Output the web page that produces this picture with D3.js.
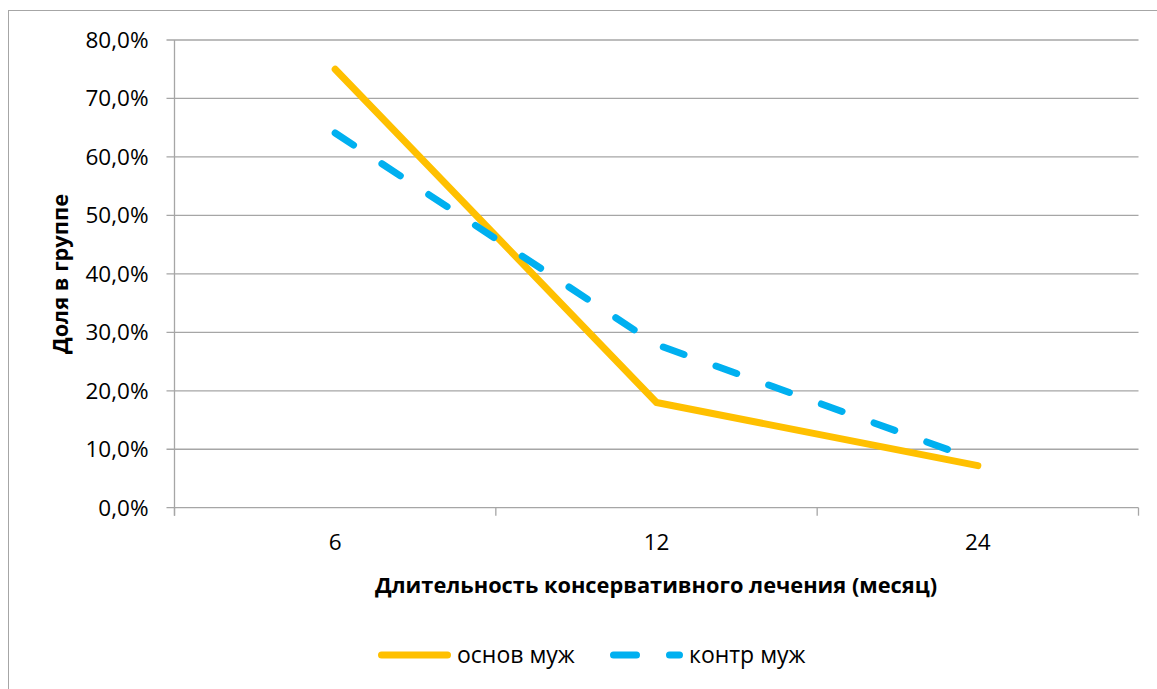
<!DOCTYPE html>
<html><head><meta charset="utf-8">
<script src="https://cdn.jsdelivr.net/npm/d3@7"></script>
<style>html,body{margin:0;padding:0;background:#fff;}svg{display:block;}</style>
</head><body>
<svg id="chart" width="1157" height="689"></svg>
<script>
const categories = ["6", "12", "24"];
const seriesNames = ["основ муж", "контр муж"];
const osnovMuzh = [0.750, 0.180, 0.072];
const kontrMuzh = [0.641, 0.279, 0.081];
const yTicks = [0, 0.1, 0.2, 0.3, 0.4, 0.5, 0.6, 0.7, 0.8];
const xTitle = "Длительность консервативного лечения (месяц)";
const yTitle = "Доля в группе";

const colors = ["#FFC000", "#00B0F0"];
const font = "'Open Sans', 'Liberation Sans', sans-serif";
const svg = d3.select("#chart");
const m = {left: 174.5, right: 1138.5, top: 40, bottom: 507.7};

svg.append("rect").attr("x", 8.5).attr("y", 10.5).attr("width", 1160).attr("height", 700)
  .attr("fill", "#fff").attr("stroke", "#a6a6a6").attr("stroke-width", 1);

const x = d3.scaleBand().domain(categories).range([m.left, m.right]);
const y = d3.scaleLinear().domain([0, 0.8]).range([m.bottom, m.top]);
const fmt = v => d3.format(".1f")(v * 100).replace(".", ",") + "%";

// grid
svg.append("g").selectAll("line").data(yTicks).join("line")
  .attr("x1", m.left - 8).attr("x2", m.right)
  .attr("y1", d => y(d)).attr("y2", d => y(d))
  .attr("stroke", "#a6a6a6").attr("stroke-width", 1.3);

// y axis
const yAxis = svg.append("g").attr("transform", `translate(${m.left},0)`)
  .call(d3.axisLeft(y).tickValues(yTicks).tickFormat(fmt).tickSize(0).tickPadding(26));
yAxis.select(".domain").attr("stroke", "#a6a6a6").attr("stroke-width", 1.3)
  .attr("d", `M0,${m.top}V${m.bottom + 8}`);
yAxis.selectAll("text").attr("font-family", font).attr("font-size", 22.5).attr("fill", "#000").attr("dy", "0.33em");

// x axis
const xAxis = svg.append("g").attr("transform", `translate(0,${m.bottom})`)
  .call(d3.axisBottom(x).tickSize(0).tickPadding(26));
xAxis.select(".domain").remove();
xAxis.selectAll("text").attr("font-family", font).attr("font-size", 22.5).attr("fill", "#000");
const bounds = categories.map(c => x(c)).concat([x(categories[categories.length - 1]) + x.bandwidth()]);
svg.append("g").selectAll("line").data(bounds).join("line")
  .attr("x1", d => d).attr("x2", d => d).attr("y1", m.bottom).attr("y2", m.bottom + 8)
  .attr("stroke", "#a6a6a6").attr("stroke-width", 1.3);

// titles
svg.append("text").attr("x", 656).attr("y", 593).attr("text-anchor", "middle")
  .attr("font-family", font).attr("font-weight", "bold").attr("font-size", 21.8).text(xTitle);
svg.append("text").attr("transform", "translate(68,274) rotate(-90)").attr("text-anchor", "middle")
  .attr("font-family", font).attr("font-weight", "bold").attr("font-size", 21.8).text(yTitle);

// lines
const line = d3.line().x((d, i) => x(categories[i]) + x.bandwidth() / 2).y(d => y(d));
const dashes = [null, "22,34"];
[osnovMuzh, kontrMuzh].forEach((s, k) => {
  svg.append("path").datum(s).attr("d", line).attr("fill", "none")
    .attr("stroke", colors[k]).attr("stroke-width", 7)
    .attr("stroke-linecap", "round").attr("stroke-linejoin", "round")
    .attr("stroke-dasharray", dashes[k]);
});

// legend
const legX = [381.5, 613.5];
seriesNames.forEach((n, k) => {
  svg.append("line").attr("x1", legX[k]).attr("x2", legX[k] + 66).attr("y1", 655).attr("y2", 655)
    .attr("stroke", colors[k]).attr("stroke-width", 7).attr("stroke-linecap", "round")
    .attr("stroke-dasharray", k === 1 ? "23,33" : null);
  svg.append("text").attr("x", legX[k] + 75.5).attr("y", 663)
    .attr("font-family", font).attr("font-size", 23).attr("fill", "#000").text(n);
});
</script>
</body></html>
